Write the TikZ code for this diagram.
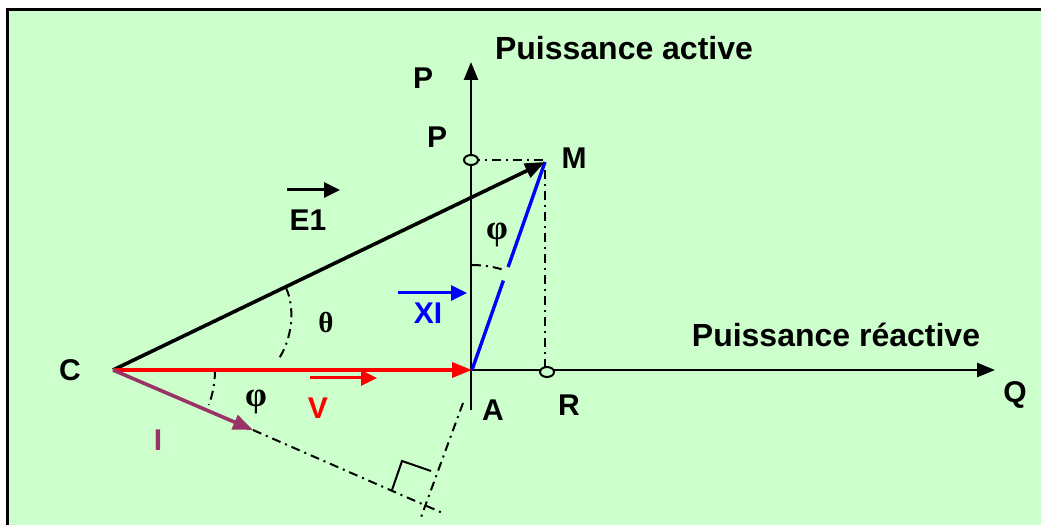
\documentclass[tikz,border=0pt]{standalone}
\usepackage{fontspec}
\setmainfont{Liberation Sans}
\newfontfamily\grk{Liberation Serif}
\usetikzlibrary{arrows.meta,calc,shapes.geometric}
\definecolor{bg}{HTML}{CCFFCC}
\definecolor{purp}{HTML}{993366}
\definecolor{myred}{HTML}{FF0000}
\definecolor{myblue}{HTML}{0000FF}
\begin{document}
\begin{tikzpicture}[x=1pt,y=1pt,
  lbl/.style={inner sep=0pt,font=\fontsize{30}{33}\selectfont\bfseries},
  title/.style={inner sep=0pt,font=\fontsize{32}{36}\selectfont\bfseries},
  thetas/.style={inner sep=0pt,font=\fontsize{29}{32}\selectfont\grk\bfseries},
  phis/.style={inner sep=0pt,font=\fontsize{35}{38}\selectfont\grk\bfseries},
  axis/.style={line width=2.6pt,-{Triangle[length=18pt,width=14pt]}},
  vec/.style={line width=3.6pt,-{Triangle[length=20pt,width=15pt]}},
  small/.style={line width=3pt,-{Triangle[length=16pt,width=15pt]}},
  dashdot/.style={line width=2pt,dash pattern=on 9pt off 5pt on 2pt off 5pt},
  ring/.style={draw=black,line width=2pt,fill=bg,ellipse,minimum width=14pt,minimum height=10pt,inner sep=0pt}
]
\useasboundingbox (0,0) rectangle (1041,525);
\fill[white] (0,0) rectangle (1041,525);
\fill[bg] (7,0) rectangle (1041,515);
\draw[line width=3pt] (7,0) -- (7,515) -- (1041,515);

% key points
\coordinate (C) at (113,155);
\coordinate (A) at (472,155);
\coordinate (M) at (545,363);
\coordinate (Atop) at (471,463);
\coordinate (Abot) at (471,115);
\coordinate (Qend) at (995,155);
\coordinate (Pc) at (471,365);
\coordinate (Rc) at (547,153);
\coordinate (Mc) at (545,365);
\coordinate (Mr) at (545,156);
\coordinate (Itip) at (253,95);
\coordinate (Iend) at (445,11);
\coordinate (Pa) at (463,122);
\coordinate (Pb) at (420,5);
\coordinate (Ra) at (392,35);
\coordinate (Rb) at (402,64);
\coordinate (Rd) at (431,54);
\coordinate (Th1) at (286,237);
\coordinate (Th2) at (278,165);

% axes
\draw[axis] (Abot) -- (Atop);
\draw[axis] (A) -- (Qend);

% projection dash-dot lines
\draw[dashdot] (Pc) -- (Mc) -- (Mr);
\draw[dashdot] (Itip) -- (Iend);
\draw[dashdot] (Pa) -- (Pb);
\draw[line width=2pt] (Ra) -- (Rb) -- (Rd);

% angle arcs
\draw[dashdot] ([shift={(90:105)}]A) arc[start angle=90,end angle=71,radius=105];
\draw[dashdot] (Th1) .. controls (295,218) and (293,187) .. (Th2);
\draw[dashdot] ([shift={(0:102)}]C) arc[start angle=0,end angle=-20,radius=102];

% vectors
\draw[myblue,line width=3.4pt] (A) -- ($(A)!0.43!(M)$);
\draw[myblue,line width=3.4pt] ($(A)!0.495!(M)$) -- (M);
\draw[vec,black] (C) -- (M);
\draw[vec,myred] (C) -- (A);
\draw[vec,purp] (C) -- (Itip);

% rings
\node[ring] (PR) at (Pc) {};
\node[ring] (RR) at (Rc) {};

% small vector arrows above labels
\coordinate (e1a) at (287,335); \coordinate (e1b) at (340,335);
\draw[small,black] (e1a) -- (e1b);
\coordinate (xia) at (398,232); \coordinate (xib) at (467,232);
\draw[small,myblue] (xia) -- (xib);
\coordinate (va) at (310,147); \coordinate (vb) at (377,147);
\draw[small,myred] (va) -- (vb);

% labels
\node[title] (tPA) at (624,477) {Puissance active};
\node[title] (tPR) at (836,190) {Puissance réactive};
\node[lbl] (lP1) at (423,447) {P};
\node[lbl] (lP2) at (437,388) {P};
\node[lbl] (lM) at (574,367) {M};
\node[lbl] (lE1) at (308,305) {E1};
\node[lbl,text=myblue] (lXI) at (428,212) {XI};
\node[lbl] (lC) at (70,155) {C};
\node[lbl,text=myred] (lV) at (318,117) {V};
\node[lbl,text=purp] (lI) at (158,85) {I};
\node[lbl] (lA) at (493,115) {A};
\node[lbl] (lR) at (569,120) {R};
\node[lbl] (lQ) at (1015,130) {Q};
\node[phis] (phi1) at (497,290) {φ};
\node[thetas] (theta) at (326,202) {θ};
\node[phis] (phi2) at (256,123) {φ};
\end{tikzpicture}
\end{document}
